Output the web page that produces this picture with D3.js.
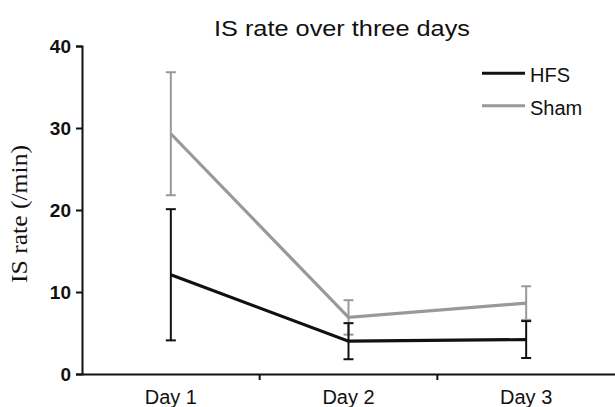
<!DOCTYPE html>
<html>
<head>
<meta charset="utf-8">
<script src="https://cdn.jsdelivr.net/npm/d3@7"></script>
<style>
  body { margin: 0; background: #fff; }
  svg { display: block; }
</style>
</head>
<body>
<div id="chart-area"></div>
<script>
// data
var days = ["Day 1", "Day 2", "Day 3"];
var hfsMean = [12.1, 4.0, 4.2];
var hfsErr  = [8.0, 2.2, 2.25];
var shamMean = [29.3, 6.9, 8.65];
var shamErr  = [7.5, 2.1, 2.05];
var yTicks = [0, 10, 20, 30, 40];
var seriesNames = ["HFS", "Sham"];

var W = 615, H = 407;
var margin = {top: 46, right: 0, bottom: 33, left: 82};

var svg = d3.select("#chart-area")
    .append("svg")
    .attr("width", W)
    .attr("height", H);

var x = d3.scaleBand()
    .domain(days)
    .range([margin.left, W - margin.right])
    .padding(0);

var y = d3.scaleLinear()
    .domain([0, 40])
    .range([374, margin.top]);

var color = d3.scaleOrdinal()
    .domain(seriesNames)
    .range(["#111", "#999"]);

var series = [
  {name: "Sham", mean: shamMean, err: shamErr},
  {name: "HFS", mean: hfsMean, err: hfsErr}
];

// title
svg.append("text")
    .attr("x", 342)
    .attr("y", 36)
    .attr("text-anchor", "middle")
    .attr("font-family", "Liberation Sans, Arial, sans-serif")
    .attr("font-size", "22px")
    .attr("textLength", 256)
    .attr("lengthAdjust", "spacingAndGlyphs")
    .attr("fill", "#111")
    .text("IS rate over three days");

// y axis label
svg.append("text")
    .attr("transform", "translate(27,214) rotate(-90)")
    .attr("text-anchor", "middle")
    .attr("font-family", "Liberation Serif, Times New Roman, serif")
    .attr("font-size", "24px")
    .attr("textLength", 138)
    .attr("lengthAdjust", "spacingAndGlyphs")
    .attr("fill", "#111")
    .text("IS rate (/min)");

// axes
var yAxis = svg.append("g")
    .attr("transform", "translate(" + margin.left + ",0)")
    .call(d3.axisLeft(y).tickValues(yTicks).tickSizeOuter(0).tickSize(6).tickPadding(5));

var xAxis = svg.append("g")
    .attr("transform", "translate(0," + y(0) + ")")
    .call(d3.axisBottom(x).tickSize(0).tickSizeOuter(0).tickPadding(14));

// tick marks between the days
xAxis.selectAll(".sep")
    .data(days.slice(1))
    .enter()
    .append("line")
      .attr("class", "sep")
      .attr("x1", function(d){ return x(d); })
      .attr("x2", function(d){ return x(d); })
      .attr("y1", 0)
      .attr("y2", 6)
      .attr("stroke", "#111")
      .attr("stroke-width", 2);

svg.selectAll(".domain")
    .attr("stroke", "#111")
    .attr("stroke-width", 2);
yAxis.selectAll(".tick line")
    .attr("stroke", "#111")
    .attr("stroke-width", 2);

yAxis.selectAll("text")
    .attr("font-family", "Liberation Sans, Arial, sans-serif")
    .attr("font-size", "19px")
    .attr("font-weight", "bold")
    .attr("fill", "#111");

xAxis.selectAll(".tick text")
    .attr("font-family", "Liberation Sans, Arial, sans-serif")
    .attr("font-size", "20px")
    .attr("fill", "#111")
    .attr("dy", "0.71em")
    .attr("y", 16);

var xc = function(d){ return x(d) + x.bandwidth() / 2; };

var line = d3.line()
    .x(function(d){ return xc(d.day); })
    .y(function(d){ return y(d.v); });

series.forEach(function(s){
  var pts = days.map(function(d, i){
    return {day: d, v: s.mean[i], e: s.err[i]};
  });
  var g = svg.append("g").attr("class", "series-" + s.name);

  var bars = g.selectAll(".err")
      .data(pts)
      .enter()
      .append("g")
        .attr("class", "err")
        .attr("stroke", color(s.name))
        .attr("stroke-width", 2);

  bars.append("line")
      .attr("x1", function(d){ return xc(d.day); })
      .attr("x2", function(d){ return xc(d.day); })
      .attr("y1", function(d){ return y(d.v + d.e); })
      .attr("y2", function(d){ return y(d.v - d.e); });
  bars.append("line")
      .attr("x1", function(d){ return xc(d.day) - 5; })
      .attr("x2", function(d){ return xc(d.day) + 5; })
      .attr("y1", function(d){ return y(d.v + d.e); })
      .attr("y2", function(d){ return y(d.v + d.e); });
  bars.append("line")
      .attr("x1", function(d){ return xc(d.day) - 5; })
      .attr("x2", function(d){ return xc(d.day) + 5; })
      .attr("y1", function(d){ return y(d.v - d.e); })
      .attr("y2", function(d){ return y(d.v - d.e); });

  g.append("path")
      .datum(pts)
      .attr("fill", "none")
      .attr("stroke", color(s.name))
      .attr("stroke-width", 3.2)
      .attr("d", line);
});

// legend
var legend = svg.selectAll(".leg")
    .data(seriesNames)
    .enter()
    .append("g")
      .attr("class", "leg")
      .attr("transform", function(d, i){ return "translate(482," + (73.3 + i * 32.4) + ")"; });

legend.append("line")
    .attr("x1", 0)
    .attr("x2", 43)
    .attr("stroke", function(d){ return color(d); })
    .attr("stroke-width", 3);

legend.append("text")
    .attr("x", 48)
    .attr("y", 9)
    .attr("font-family", "Liberation Sans, Arial, sans-serif")
    .attr("font-size", "20px")
    .attr("fill", "#111")
    .text(function(d){ return d; });
</script>
</body>
</html>
